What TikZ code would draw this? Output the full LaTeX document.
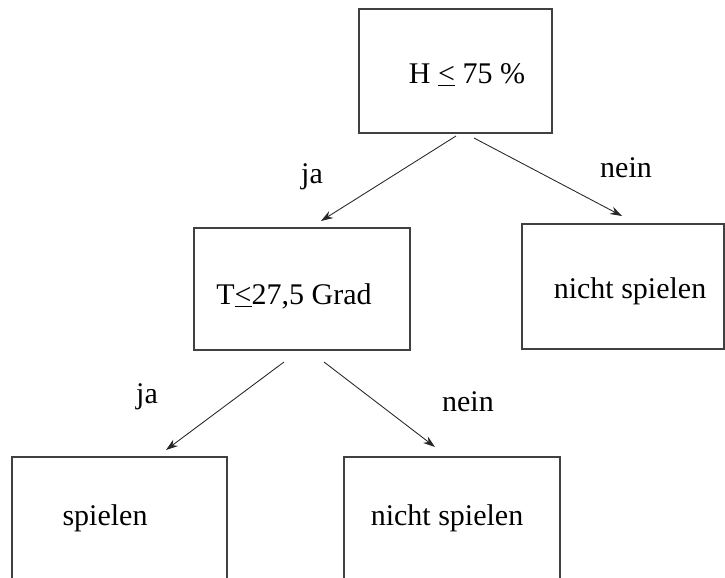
\documentclass[tikz,border=0pt]{standalone}
\usepackage{fontspec}
\setmainfont{Liberation Serif}
\usetikzlibrary{arrows.meta}
\newcommand\leqsym{\underline{<}}
\begin{document}
\begin{tikzpicture}[x=0.75pt,y=-0.75pt,
  box/.style={draw=black!75,line width=0.95pt},
  txt/.style={anchor=base,inner sep=0pt,font=\fontsize{22.5}{27}\selectfont},
  edge/.style={draw=black!85,line width=0.65pt,-{Stealth[length=9pt,width=6pt]}}]
\useasboundingbox (0,0) rectangle (725,578);
\clip (0,0) rectangle (725,578);
% decision and leaf boxes
\path[box] (359,9) rectangle (552,133);
\path[box] (194,228) rectangle (410,350);
\path[box] (522,224) rectangle (724,349);
\path[box] (12,457) rectangle (227,600);
\path[box] (344,457) rectangle (560,600);
% box texts
\node[txt] (h)  at (467,83)  {H \leqsym{} 75 \%};
\node[txt] (t)  at (294,304) {T\leqsym27,5 Grad};
\node[txt] (n1) at (630,298) {nicht spielen};
\node[txt] (s)  at (105,525) {spielen};
\node[txt] (n2) at (447,525) {nicht spielen};
% branch labels
\node[txt] (ja1)   at (312,183) {ja};
\node[txt] (nein1) at (626,177) {nein};
\node[txt] (ja2)   at (147,403) {ja};
\node[txt] (nein2) at (468,411) {nein};
% connector end points
\coordinate (h1) at (456,136);
\coordinate (h2) at (474,138);
\coordinate (t1) at (284,362);
\coordinate (t2) at (324,362);
\coordinate (tT) at (321,221);
\coordinate (nT) at (622,216);
\coordinate (sT) at (166,450);
\coordinate (mT) at (435,447);
\draw[edge] (h1) -- (tT);
\draw[edge] (h2) -- (nT);
\draw[edge] (t1) -- (sT);
\draw[edge] (t2) -- (mT);
\end{tikzpicture}
\end{document}
